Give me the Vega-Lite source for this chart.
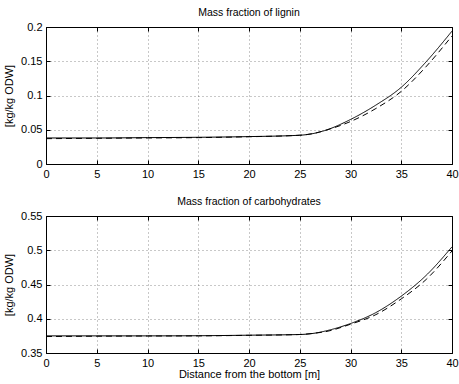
{
  "$schema": "https://vega.github.io/schema/vega-lite/v6.json",
  "background": "white",
  "padding": {"left": 3, "top": 7, "right": 0, "bottom": 0},
  "config": {
    "font": "Liberation Sans",
    "view": {"stroke": "black", "strokeWidth": 1},
    "axis": {
      "labelFont": "Liberation Sans", "labelFontSize": 11, "labelColor": "black",
      "titleFont": "Liberation Sans", "titleFontSize": 11, "titleFontWeight": "normal", "titleColor": "black",
      "domain": false, "tickColor": "black", "tickSize": -4,
      "grid": true, "gridColor": "#000000", "gridOpacity": 0.55, "gridDash": [1, 3], "gridWidth": 0.8,
      "labelPadding": 8
    },
    "title": {"font": "Liberation Sans", "fontSize": 10.5, "fontWeight": "normal", "color": "black", "offset": 3}
  },
  "datasets": {
    "lignin": [
      {"d": 0, "v": 0.038, "s": "solid"}, {"d": 5, "v": 0.038, "s": "solid"}, {"d": 10, "v": 0.0385, "s": "solid"},
      {"d": 15, "v": 0.039, "s": "solid"}, {"d": 20, "v": 0.040, "s": "solid"}, {"d": 25, "v": 0.042, "s": "solid"},
      {"d": 26.5, "v": 0.045, "s": "solid"}, {"d": 27.5, "v": 0.049, "s": "solid"}, {"d": 30, "v": 0.065, "s": "solid"},
      {"d": 32.5, "v": 0.086, "s": "solid"}, {"d": 35, "v": 0.112, "s": "solid"}, {"d": 37.5, "v": 0.150, "s": "solid"},
      {"d": 40, "v": 0.194, "s": "solid"},
      {"d": 0, "v": 0.037, "s": "dashed"}, {"d": 5, "v": 0.0375, "s": "dashed"}, {"d": 10, "v": 0.038, "s": "dashed"},
      {"d": 15, "v": 0.0385, "s": "dashed"}, {"d": 20, "v": 0.0398, "s": "dashed"}, {"d": 25, "v": 0.042, "s": "dashed"},
      {"d": 26.5, "v": 0.045, "s": "dashed"}, {"d": 27.5, "v": 0.049, "s": "dashed"}, {"d": 30, "v": 0.062, "s": "dashed"},
      {"d": 32.5, "v": 0.081, "s": "dashed"}, {"d": 35, "v": 0.106, "s": "dashed"}, {"d": 37.5, "v": 0.143, "s": "dashed"},
      {"d": 40, "v": 0.187, "s": "dashed"}
    ],
    "carb": [
      {"d": 0, "v": 0.375, "s": "solid"}, {"d": 5, "v": 0.375, "s": "solid"}, {"d": 10, "v": 0.375, "s": "solid"},
      {"d": 15, "v": 0.3752, "s": "solid"}, {"d": 20, "v": 0.376, "s": "solid"}, {"d": 25, "v": 0.377, "s": "solid"},
      {"d": 26.5, "v": 0.379, "s": "solid"}, {"d": 27.5, "v": 0.382, "s": "solid"}, {"d": 30, "v": 0.393, "s": "solid"},
      {"d": 32.5, "v": 0.409, "s": "solid"}, {"d": 35, "v": 0.433, "s": "solid"}, {"d": 37.5, "v": 0.464, "s": "solid"},
      {"d": 40, "v": 0.505, "s": "solid"},
      {"d": 0, "v": 0.374, "s": "dashed"}, {"d": 5, "v": 0.3745, "s": "dashed"}, {"d": 10, "v": 0.3748, "s": "dashed"},
      {"d": 15, "v": 0.375, "s": "dashed"}, {"d": 20, "v": 0.3758, "s": "dashed"}, {"d": 25, "v": 0.377, "s": "dashed"},
      {"d": 26.5, "v": 0.379, "s": "dashed"}, {"d": 27.5, "v": 0.381, "s": "dashed"}, {"d": 30, "v": 0.392, "s": "dashed"},
      {"d": 32.5, "v": 0.406, "s": "dashed"}, {"d": 35, "v": 0.429, "s": "dashed"}, {"d": 37.5, "v": 0.458, "s": "dashed"},
      {"d": 40, "v": 0.499, "s": "dashed"}
    ]
  },
  "spacing": 16,
  "vconcat": [
    {
      "title": "Mass fraction of lignin",
      "width": 406, "height": 137,
      "data": {"name": "lignin"},
      "layer": [
        {
          "mark": {"type": "line", "color": "black", "strokeWidth": 1, "interpolate": "monotone"},
          "encoding": {
            "x": {"field": "d", "type": "quantitative", "scale": {"domain": [0, 40], "nice": false}, "axis": {"title": null, "values": [0,5,10,15,20,25,30,35,40], "labelFlush": false}},
            "y": {"field": "v", "type": "quantitative", "scale": {"domain": [0, 0.2], "nice": false}, "axis": {"title": "[kg/kg ODW]", "values": [0,0.05,0.1,0.15,0.2], "format": "~g", "labelFlush": false, "titlePadding": 6}},
            "detail": {"field": "s"},
            "strokeDash": {"field": "s", "type": "nominal", "scale": {"domain": ["solid", "dashed"], "range": [[1, 0], [6, 4]]}, "legend": null}
          }
        },
        {
          "mark": {"type": "point", "opacity": 0},
          "encoding": {
            "x": {"field": "d", "type": "quantitative", "axis": {"orient": "top", "labels": false, "grid": false, "title": null, "values": [0,5,10,15,20,25,30,35,40]}},
            "y": {"field": "v", "type": "quantitative", "axis": {"orient": "right", "labels": false, "grid": false, "title": null, "values": [0,0.05,0.1,0.15,0.2]}}
          }
        }
      ],
      "resolve": {"axis": {"x": "independent", "y": "independent"}}
    },
    {
      "title": "Mass fraction of carbohydrates",
      "width": 406, "height": 137,
      "data": {"name": "carb"},
      "layer": [
        {
          "mark": {"type": "line", "color": "black", "strokeWidth": 1, "interpolate": "monotone"},
          "encoding": {
            "x": {"field": "d", "type": "quantitative", "scale": {"domain": [0, 40], "nice": false}, "axis": {"title": "Distance from the bottom [m]", "titlePadding": 0, "values": [0,5,10,15,20,25,30,35,40], "labelFlush": false}},
            "y": {"field": "v", "type": "quantitative", "scale": {"domain": [0.35, 0.55], "nice": false, "zero": false}, "axis": {"title": "[kg/kg ODW]", "values": [0.35,0.4,0.45,0.5,0.55], "format": "~g", "labelFlush": false, "titlePadding": 6}},
            "detail": {"field": "s"},
            "strokeDash": {"field": "s", "type": "nominal", "scale": {"domain": ["solid", "dashed"], "range": [[1, 0], [6, 4]]}, "legend": null}
          }
        },
        {
          "mark": {"type": "point", "opacity": 0},
          "encoding": {
            "x": {"field": "d", "type": "quantitative", "axis": {"orient": "top", "labels": false, "grid": false, "title": null, "values": [0,5,10,15,20,25,30,35,40]}},
            "y": {"field": "v", "type": "quantitative", "axis": {"orient": "right", "labels": false, "grid": false, "title": null, "values": [0.35,0.4,0.45,0.5,0.55]}}
          }
        }
      ],
      "resolve": {"axis": {"x": "independent", "y": "independent"}}
    }
  ]
}
